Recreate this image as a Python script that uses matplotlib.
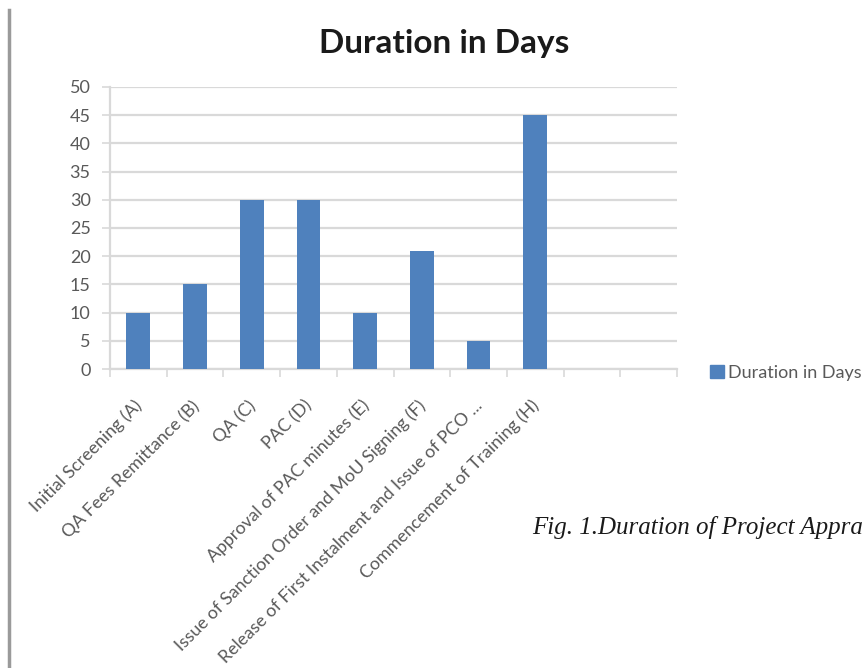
import numpy as np
import matplotlib.pyplot as plt
from matplotlib.lines import Line2D
from matplotlib.patches import Patch

# stages of project appraisal and their durations (days)
stages = [
    "Initial Screening (A)",
    "QA Fees Remittance (B)",
    "QA (C)",
    "PAC (D)",
    "Approval of PAC minutes (E)",
    "Issue of Sanction Order and MoU Signing (F)",
    "Release of First Instalment and Issue of PCO ...",
    "Commencement of Training (H)",
    "",
    "",
]
days = [10, 15, 30, 30, 10, 21, 5, 45, np.nan, np.nan]
y_ticks = list(range(0, 51, 5))

bar_color = "#4F81BD"
grid_color = "#D9D9D9"
text_color = "#595959"

plt.rcParams["font.family"] = ["Lato", "DejaVu Sans"]

fig = plt.figure(figsize=(8.63, 6.68), dpi=100)
fig.patch.set_facecolor("w")
ax = fig.add_axes([0.1275, 0.4476, 0.657, 0.4222])

x = np.arange(len(stages))
ax.bar(x, days, width=0.42, color=bar_color, zorder=3)

ax.set_xlim(-0.5, len(stages) - 0.5)
ax.set_ylim(0, 50)
ax.set_yticks(y_ticks)
ax.yaxis.grid(True, color=grid_color, linewidth=1.6, zorder=0)
ax.tick_params(axis="y", length=6, width=1.2, color=grid_color,
               labelsize=13, labelcolor=text_color, pad=8)

# category boundary ticks under the x axis
ax.set_xticks(np.arange(len(stages) + 1) - 0.5)
ax.set_xticklabels([])
ax.tick_params(axis="x", length=6, width=1.2, color=grid_color, direction="out")
for xi, lab in zip(x, stages):
    ax.text(xi - 0.08, -5.0, lab, rotation=45, ha="right", va="top",
            rotation_mode="anchor", fontsize=12.8, color=text_color,
            transform=ax.transData)

for side in ["top", "right"]:
    ax.spines[side].set_visible(False)
ax.spines["left"].set_color(grid_color)
ax.spines["left"].set_linewidth(1.6)
ax.spines["bottom"].set_color(grid_color)
ax.spines["bottom"].set_linewidth(1.6)

fig.text(0.515, 0.935, "Duration in Days", ha="center", va="center",
         fontsize=24, fontweight="bold", color="#1a1a1a")

fig.legend(handles=[Patch(color=bar_color, label="Duration in Days")],
           loc="center left", bbox_to_anchor=(0.8227, 0.442), frameon=False,
           fontsize=13, handlelength=0.75, handleheight=0.75, handletextpad=0.25,
           labelcolor=text_color, borderpad=0, borderaxespad=0)

# caption runs to the right edge of the page
fig.text(0.617, 0.21, "Fig. 1.Duration of Project Appra", ha="left",
         va="center", fontsize=18, style="italic",
         family=["Liberation Serif", "DejaVu Serif"], color="#1a1a1a")

# page edge on the left
fig.add_artist(Line2D([0.0105, 0.0105], [0.0, 0.985], color="#9a9a9a",
                      linewidth=2.5, transform=fig.transFigure))

fig.savefig("out.png", dpi=100)
